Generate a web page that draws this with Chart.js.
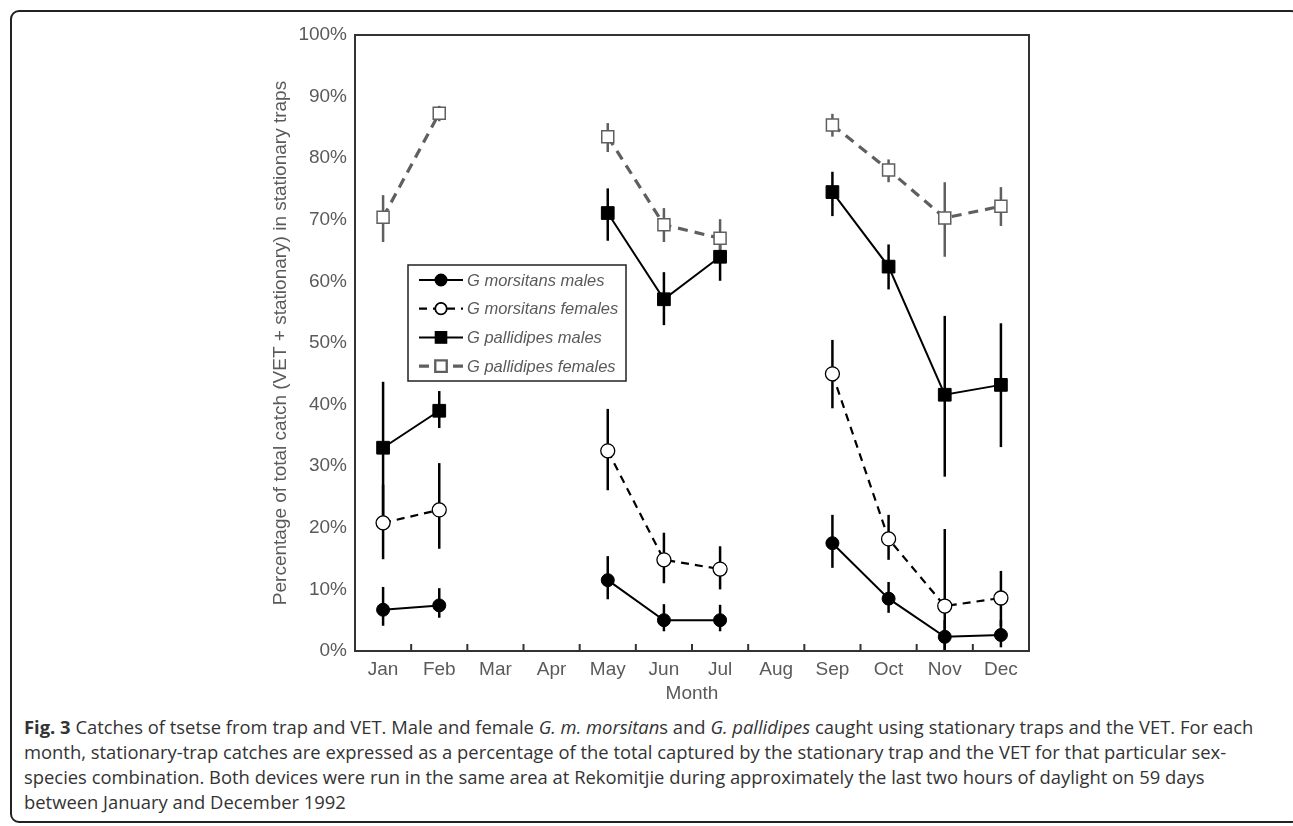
<!DOCTYPE html>
<html>
<head>
<meta charset="utf-8">
<script src="https://cdn.jsdelivr.net/npm/chart.js@4"></script>
<style>
  html, body { margin: 0; padding: 0; background: #fff; overflow: hidden; }
  body { width: 1293px; height: 826px; position: relative; }
  #wrap { position: absolute; left: 0; top: 0; width: 1293px; height: 705px; }
  #frame {
    position: absolute; left: 10px; top: 10px; width: 1290px; height: 813px;
    border: 2px solid #222; border-radius: 9px; box-sizing: border-box;
  }
  #caption {
    position: absolute; left: 24px; top: 714px; width: 1240px;
    font-family: "Open Sans", sans-serif; font-size: 18.4px; line-height: 25px; color: #333;
  }
</style>
</head>
<body>
<div id="frame"></div>
<div id="wrap"><canvas id="lineChart" width="1293" height="705"></canvas></div>
<div id="caption"><b>Fig. 3</b> Catches of tsetse from trap and VET. Male and female <i>G. m. morsitan</i>s and <i>G. pallidipes</i> caught using stationary traps and the VET. For each month, stationary-trap catches are expressed as a percentage of the total captured by the stationary trap and the VET for that particular sex-species combination. Both devices were run in the same area at Rekomitjie during approximately the last two hours of daylight on 59 days between January and December 1992</div>
<script>
const months = ['Jan', 'Feb', 'Mar', 'Apr', 'May', 'Jun', 'Jul', 'Aug', 'Sep', 'Oct', 'Nov', 'Dec'];
const yTicks = [0, 10, 20, 30, 40, 50, 60, 70, 80, 90, 100];

const morMales = [6.7, 7.4, null, null, 11.5, 5.0, 5.0, null, 17.5, 8.5, 2.3, 2.6];
const morMalesLo = [4.1, 5.4, null, null, 8.4, 3.2, 3.2, null, 13.5, 6.2, 0, 0.6];
const morMalesHi = [10.4, 10.2, null, null, 15.4, 7.6, 7.5, null, 22.1, 11.2, 5.0, 5.0];

const morFemales = [20.8, 22.9, null, null, 32.5, 14.8, 13.3, null, 45.0, 18.2, 7.3, 8.6];
const morFemalesLo = [14.9, 16.6, null, null, 26.1, 11.0, 10.0, null, 39.4, 14.8, 0, 4.0];
const morFemalesHi = [27.0, 30.5, null, null, 39.3, 19.2, 17.0, null, 50.5, 22.1, 19.8, 13.0];

const palMales = [33.0, 39.0, null, null, 71.1, 57.1, 64.0, null, 74.5, 62.4, 41.6, 43.2];
const palMalesLo = [21.0, 36.2, null, null, 66.6, 52.9, 60.1, null, 70.6, 58.7, 28.3, 33.1];
const palMalesHi = [43.7, 42.2, null, null, 75.1, 61.5, 68.0, null, 77.8, 66.0, 54.4, 53.2];

const palFemales = [70.4, 87.3, null, null, 83.5, 69.2, 67.0, null, 85.4, 78.1, 70.3, 72.2];
const palFemalesLo = [66.4, 86.0, null, null, 81.0, 66.4, 65.1, null, 83.5, 76.1, 64.0, 69.0];
const palFemalesHi = [74.0, 88.5, null, null, 85.7, 71.9, 70.1, null, 87.2, 79.8, 76.1, 75.3];

const labelColor = '#5a5a5a';
const greyLine = '#5f5f5f';
const axisFont = { family: '"Liberation Sans", Arial, sans-serif', size: 19 };

// error bars, plot frame, inward x ticks and the boxed legend
const errorBars = {
    id: 'errorBars',
    beforeDatasetsDraw(chart) {
        const ctx = chart.ctx;
        const x = chart.scales.x;
        const y = chart.scales.y;
        ctx.save();
        chart.data.datasets.forEach(function (ds) {
            ctx.strokeStyle = ds.errColor;
            ctx.lineWidth = 2.5;
            ds.data.forEach(function (v, i) {
                if (v === null) return;
                const px = x.getPixelForValue(i);
                ctx.beginPath();
                ctx.moveTo(px, y.getPixelForValue(ds.lo[i]));
                ctx.lineTo(px, y.getPixelForValue(ds.hi[i]));
                ctx.stroke();
            });
        });
        ctx.restore();
    },
    afterDatasetsDraw(chart) {
        const ctx = chart.ctx;
        const area = chart.chartArea;
        ctx.save();
        ctx.strokeStyle = '#333';
        ctx.lineWidth = 2;
        ctx.strokeRect(area.left, area.top, area.right - area.left, area.bottom - area.top);
        const step = (area.right - area.left) / months.length;
        for (let i = 1; i < months.length; i++) {
            const px = area.left + step * i;
            ctx.beginPath();
            ctx.moveTo(px, area.bottom);
            ctx.lineTo(px, area.bottom - 7);
            ctx.stroke();
        }

        // legend box
        const lx = area.left + 53;
        const ly = area.top + 230;
        const lw = 218;
        const lh = 116;
        ctx.fillStyle = '#fff';
        ctx.fillRect(lx, ly, lw, lh);
        ctx.lineWidth = 1.5;
        ctx.strokeStyle = '#222';
        ctx.strokeRect(lx, ly, lw, lh);
        chart.data.datasets.forEach(function (ds, k) {
            const ry = ly + 15 + k * 28.7;
            ctx.strokeStyle = ds.borderColor;
            ctx.lineWidth = ds.borderWidth;
            ctx.setLineDash(ds.borderDash || []);
            ctx.beginPath();
            ctx.moveTo(lx + 11, ry);
            ctx.lineTo(lx + 55, ry);
            ctx.stroke();
            ctx.setLineDash([]);
            Chart.helpers.drawPoint(ctx, {
                pointStyle: ds.pointStyle,
                radius: ds.pointStyle === 'rect' ? 7.5 : 5.5,
                borderWidth: ds.pointBorderWidth
            }, lx + 33, ry);
            ctx.fillStyle = ds.pointBackgroundColor;
            ctx.strokeStyle = ds.pointBorderColor;
            ctx.lineWidth = ds.pointBorderWidth;
            ctx.fill();
            ctx.stroke();
            ctx.fillStyle = labelColor;
            ctx.font = 'italic 16.5px "Liberation Sans", Arial, sans-serif';
            ctx.textBaseline = 'middle';
            ctx.fillText(ds.label, lx + 59, ry + 1);
        });
        ctx.restore();
    }
};

const lineChart = document.getElementById('lineChart');
if (lineChart) {
    const lineChartVar = new Chart(lineChart, {
        type: 'line',
        data: {
            labels: months,
            datasets: [
                {
                    label: 'G morsitans males',
                    data: morMales,
                    lo: morMalesLo,
                    hi: morMalesHi,
                    errColor: '#000',
                    borderColor: '#000',
                    borderWidth: 2,
                    pointStyle: 'circle',
                    pointRadius: 6.5,
                    pointBackgroundColor: '#000',
                    pointBorderColor: '#000',
                    pointBorderWidth: 1
                },
                {
                    label: 'G morsitans females',
                    data: morFemales,
                    lo: morFemalesLo,
                    hi: morFemalesHi,
                    errColor: '#000',
                    borderColor: '#000',
                    borderWidth: 2.2,
                    borderDash: [8, 6],
                    pointStyle: 'circle',
                    pointRadius: 7,
                    pointBackgroundColor: '#fff',
                    pointBorderColor: '#000',
                    pointBorderWidth: 1.3
                },
                {
                    label: 'G pallidipes males',
                    data: palMales,
                    lo: palMalesLo,
                    hi: palMalesHi,
                    errColor: '#000',
                    borderColor: '#000',
                    borderWidth: 2,
                    pointStyle: 'rect',
                    pointRadius: 9,
                    pointBackgroundColor: '#000',
                    pointBorderColor: '#000',
                    pointBorderWidth: 1
                },
                {
                    label: 'G pallidipes females',
                    data: palFemales,
                    lo: palFemalesLo,
                    hi: palFemalesHi,
                    errColor: greyLine,
                    borderColor: greyLine,
                    borderWidth: 3.2,
                    borderDash: [10, 7],
                    pointStyle: 'rect',
                    pointRadius: 8.5,
                    pointBackgroundColor: '#fff',
                    pointBorderColor: greyLine,
                    pointBorderWidth: 1.5
                }
            ]
        },
        options: {
            responsive: false,
            animation: false,
            spanGaps: false,
            layout: {
                padding: { left: 269, top: 35, right: 264, bottom: 0 }
            },
            plugins: {
                legend: { display: false },
                tooltip: { enabled: false }
            },
            scales: {
                x: {
                    offset: true,
                    grid: { display: false, drawTicks: false },
                    border: { display: false },
                    ticks: { color: labelColor, font: axisFont, padding: 7 },
                    title: {
                        display: true,
                        text: 'Month',
                        color: labelColor,
                        font: axisFont,
                        padding: { top: 0, bottom: 0 }
                    },
                    afterFit: function (scale) { scale.height = 54; }
                },
                y: {
                    min: 0,
                    max: 100,
                    afterBuildTicks: function (scale) {
                        scale.ticks = yTicks.map(function (v) { return { value: v }; });
                    },
                    grid: { display: false, drawTicks: false },
                    border: { display: false },
                    ticks: {
                        color: labelColor,
                        font: axisFont,
                        padding: 8,
                        callback: function (v) { return v + '%'; }
                    },
                    title: {
                        display: true,
                        text: 'Percentage of total catch (VET + stationary) in stationary traps',
                        color: labelColor,
                        font: axisFont,
                        padding: { top: 0, bottom: 0 }
                    },
                    afterFit: function (scale) { scale.width = 86; }
                }
            }
        },
        plugins: [errorBars]
    });
}
</script>
</body>
</html>
